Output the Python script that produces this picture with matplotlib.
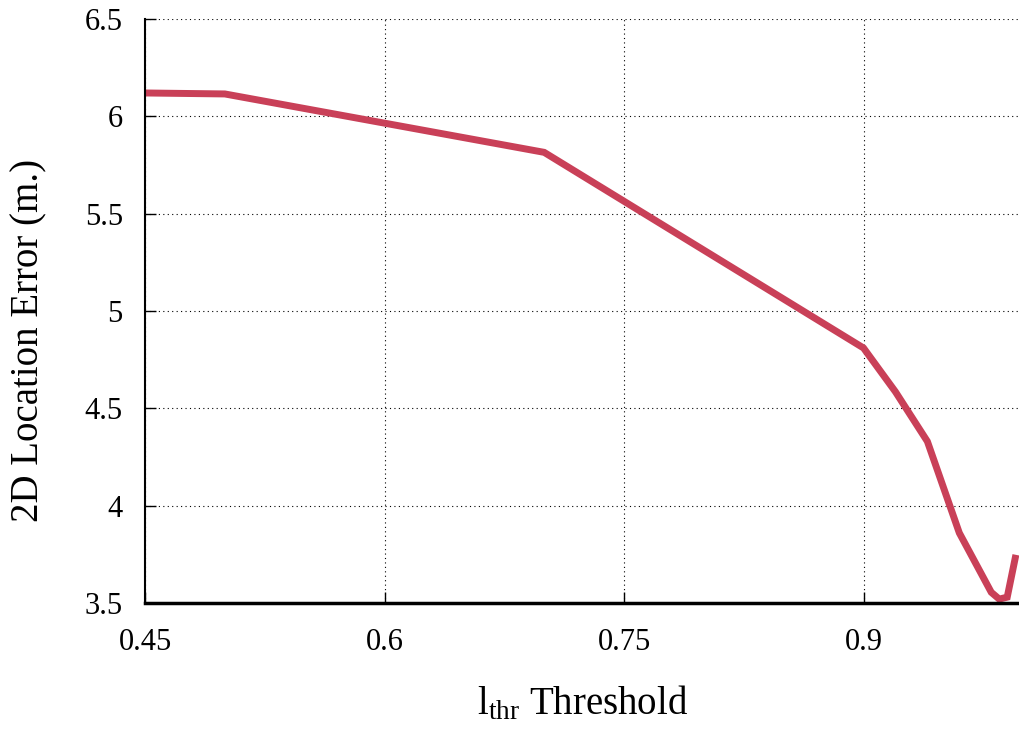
import numpy as np
import matplotlib
matplotlib.use('Agg')
import matplotlib.pyplot as plt

plt.rcParams['font.family'] = ['Liberation Serif', 'DejaVu Serif']
plt.rcParams['mathtext.fontset'] = 'custom'
plt.rcParams['mathtext.rm'] = 'Liberation Serif'
plt.rcParams['mathtext.it'] = 'Liberation Serif:italic'

# threshold vs error
thr = [0.45, 0.5, 0.7, 0.9, 0.92, 0.94, 0.96, 0.98, 0.985, 0.99, 0.995]
err = [6.12, 6.115, 5.815, 4.81, 4.585, 4.33, 3.86, 3.555, 3.52, 3.53, 3.73]

xticks = [0.45, 0.6, 0.75, 0.9]
xtick_labels = ['0.45', '0.6', '0.75', '0.9']
yticks = [3.5, 4, 4.5, 5, 5.5, 6, 6.5]
ytick_labels = ['3.5', '4', '4.5', '5', '5.5', '6', '6.5']

fig = plt.figure(figsize=(10.2, 7.35), dpi=100)
ax = fig.add_axes([145/1020, 1-603/735, 875/1020, 584/735])

ax.plot(thr, err, color='#c94058', lw=5, solid_joinstyle='miter')

ax.set_xlim(0.45, 0.45 + 875/1596.7)
ax.set_ylim(3.5, 6.5)
ax.set_xticks(xticks)
ax.set_xticklabels(xtick_labels)
ax.set_yticks(yticks)
ax.set_yticklabels(ytick_labels)

ax.grid(True, color='black', linestyle=(0, (1, 3)), linewidth=0.8)
ax.spines['top'].set_visible(False)
ax.spines['right'].set_visible(False)
ax.spines['left'].set_linewidth(1.5)
ax.spines['bottom'].set_linewidth(2.5)
ax.tick_params(direction='in', length=8, width=1, labelsize=22)
ax.tick_params(axis='x', pad=18)
ax.tick_params(axis='y', pad=16)

ax.set_xlabel(r'l$_{\mathrm{thr}}$ Threshold', fontsize=28, labelpad=20)
ax.set_ylabel('2D Location Error (m.)', fontsize=28)
ax.yaxis.set_label_coords(-0.112, 0.45)

fig.savefig('out.png', dpi=100)
